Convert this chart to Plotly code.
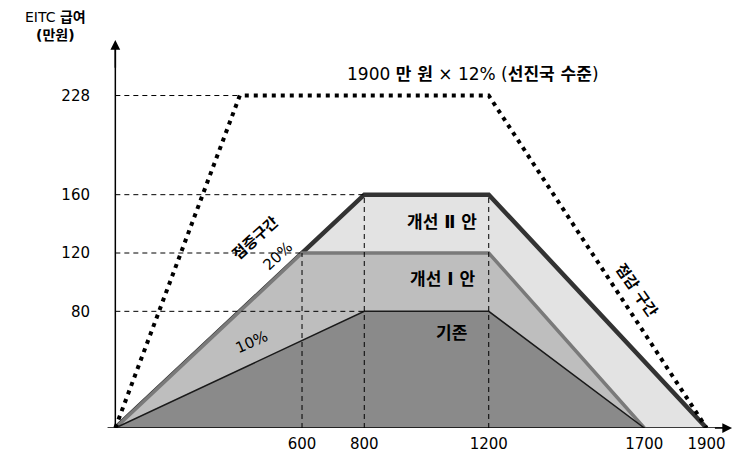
import plotly.graph_objects as go

# Income thresholds (만원) and benefit levels (만원)
baseline_x = [0, 800, 1200, 1700]
baseline_y = [0, 80, 80, 0]
plan1_x = [0, 600, 1200, 1700]
plan1_y = [0, 120, 120, 0]
plan2_x = [0, 800, 1200, 1900]
plan2_y = [0, 160, 160, 0]
advanced_x = [0, 400, 1200, 1900]
advanced_y = [0, 228, 228, 0]

x_ticks = [600, 800, 1200, 1700, 1900]
y_ticks = [80, 120, 160, 228]

FONT = "DejaVu Sans, Noto Sans CJK KR"
Y_TOP = 266
X_END = 1982

fig = go.Figure()

# Filled benefit schedules, largest first so smaller ones sit on top
fig.add_trace(go.Scatter(x=plan2_x, y=plan2_y, mode="lines", fill="tozeroy",
                         fillcolor="#e3e3e3", line=dict(color="#333333", width=4.5)))
fig.add_trace(go.Scatter(x=plan1_x, y=plan1_y, mode="lines", fill="tozeroy",
                         fillcolor="#bebebe", line=dict(color="#7a7a7a", width=3.5)))
fig.add_trace(go.Scatter(x=baseline_x, y=baseline_y, mode="lines", fill="tozeroy",
                         fillcolor="#8a8a8a", line=dict(color="#1a1a1a", width=1.5)))

# Dashed guides from the axes to the plateau corners
guide = dict(color="black", width=1, dash="5px,4px")
for xs, ys in [(advanced_x, advanced_y), (plan2_x, plan2_y),
               (plan1_x, plan1_y), (baseline_x, baseline_y)]:
    fig.add_trace(go.Scatter(x=[0, xs[1]], y=[ys[1], ys[1]], mode="lines", line=guide))
for xv, yv in [(plan1_x[1], plan1_y[1]), (plan2_x[1], plan2_y[1]), (plan2_x[2], plan2_y[2])]:
    fig.add_trace(go.Scatter(x=[xv, xv], y=[0, yv], mode="lines", line=guide))

# Advanced-country reference schedule (dotted)
fig.add_trace(go.Scatter(x=advanced_x, y=advanced_y, mode="lines",
                         line=dict(color="black", width=4, dash="4px,5px")))

# Axis lines
shapes = [
    dict(type="line", xref="x", yref="y", x0=0, x1=0, y0=0, y1=Y_TOP - 4,
         line=dict(color="black", width=1.5), layer="above"),
    dict(type="line", xref="x", yref="y", x0=-25, x1=X_END - 12, y0=0, y1=0,
         line=dict(color="black", width=1.5), layer="above"),
]

ann = []
# Arrowheads at the ends of both axes
ann.append(dict(x=0, y=Y_TOP, ax=0, ay=Y_TOP - 20, xref="x", yref="y", axref="x", ayref="y",
                text="", showarrow=True, arrowhead=2, arrowsize=1.3, arrowwidth=1.5,
                arrowcolor="black"))
ann.append(dict(x=X_END, y=0, ax=X_END - 60, ay=0, xref="x", yref="y", axref="x", ayref="y",
                text="", showarrow=True, arrowhead=2, arrowsize=1.3, arrowwidth=1.5,
                arrowcolor="black"))

def label(text, x, y, size=15, angle=0, **kw):
    d = dict(text=text, x=x, y=y, showarrow=False, textangle=angle,
             xanchor="center", yanchor="middle",
             font=dict(family=FONT, size=size, color="black"))
    d.update(kw)
    ann.append(d)

label("EITC <b>급여</b><br><b>(만원)</b>", -0.081, 0.94, size=14,
      xref="paper", yref="paper")
label("1900 <b>만 원</b> × 12% (<b>선진국 수준</b>)", 1150, 243, size=17)
label("<b>개선 Ⅱ 안</b>", 1050, 141, size=17)
label("<b>개선 Ⅰ 안</b>", 1050, 102, size=17)
label("<b>기존</b>", 1080, 65, size=17)
label("<b>점증구간</b>", 452, 130, size=15, angle=-42)
label("20%", 522, 118, size=15, angle=-43)
label("10%", 439, 59, size=15, angle=-24)
label("<b>점감 구간</b>", 1676, 94, size=15, angle=55)

fig.update_layout(
    width=733, height=453,
    margin=dict(l=106, r=0, t=0, b=23),
    paper_bgcolor="white", plot_bgcolor="white",
    showlegend=False,
    font=dict(family=FONT, size=15, color="black"),
    annotations=ann, shapes=shapes,
    xaxis=dict(range=[-30, 1985], tickvals=x_ticks, showgrid=False, zeroline=False,
               showline=False, ticks="outside", ticklen=2, tickcolor="rgba(0,0,0,0)",
               tickfont=dict(family=FONT, size=15, color="black")),
    yaxis=dict(range=[0, 293.5], tickvals=y_ticks, showgrid=False, zeroline=False,
               showline=False, ticks="outside", ticklen=12, tickcolor="rgba(0,0,0,0)",
               tickfont=dict(family=FONT, size=15, color="black")),
)

fig.write_html("out.html")
